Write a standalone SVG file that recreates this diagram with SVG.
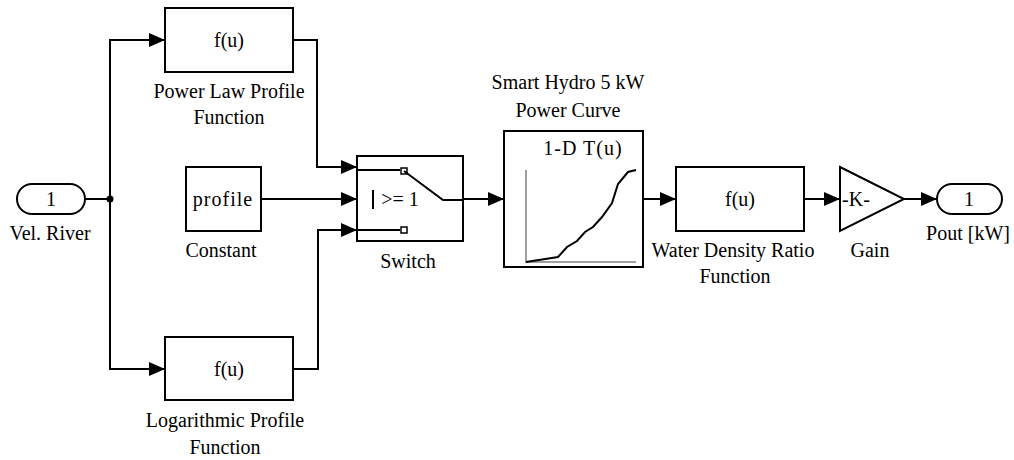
<svg xmlns="http://www.w3.org/2000/svg" width="1014" height="460" viewBox="0 0 1014 460">
<style>
.blk{fill:#fff;stroke:#000;stroke-width:2}
.ln{fill:none;stroke:#000;stroke-width:2}
.t{font-family:'Liberation Serif','DejaVu Serif','Noto Serif',serif;font-size:20px;fill:#000;text-anchor:middle}
.ax{fill:none;stroke:#a0a0a0;stroke-width:2}
</style>
<defs>
<marker id="ah" viewBox="0 0 16 14" refX="16" refY="7" markerWidth="16" markerHeight="14" markerUnits="userSpaceOnUse" orient="auto">
<path d="M0,0 L16,7 L0,14 z" fill="#000"/>
</marker>
</defs>
<g id="connectors">
<path class="ln" d="M85,199 H110"/>
<path class="ln" d="M110,199 V40 H165" marker-end="url(#ah)"/>
<path class="ln" d="M110,199 V369 H165" marker-end="url(#ah)"/>
<circle cx="110" cy="199" r="3.5" fill="#000"/>
<path class="ln" d="M293,40 H317 V167 H357" marker-end="url(#ah)"/>
<path class="ln" d="M261,199 H357" marker-end="url(#ah)"/>
<path class="ln" d="M293,369 H318 V230 H357" marker-end="url(#ah)"/>
<path class="ln" d="M463,199 H504" marker-end="url(#ah)"/>
<path class="ln" d="M643,199 H676" marker-end="url(#ah)"/>
<path class="ln" d="M804,199 H840" marker-end="url(#ah)"/>
<path class="ln" d="M904,199 H937" marker-end="url(#ah)"/>
</g>
<g id="vel_river">
<rect class="blk" x="17" y="184" width="68" height="30" rx="15"/>
<text class="t" x="51" y="206" font-family="Liberation Serif, serif">1</text>
<text class="t" x="50" y="240">Vel. River</text>
</g>
<g id="power_law">
<rect class="blk" x="165" y="8" width="128" height="64"/>
<text class="t" x="229" y="47">f(u)</text>
<text class="t" x="229" y="98">Power Law Profile</text>
<text class="t" x="229" y="124">Function</text>
</g>
<g id="constant">
<rect class="blk" x="186" y="167" width="75" height="64"/>
<text class="t" x="223" y="206" letter-spacing="1">profile</text>
<text class="t" x="221" y="257">Constant</text>
</g>
<g id="log_profile">
<rect class="blk" x="165" y="337" width="128" height="63"/>
<text class="t" x="229" y="376">f(u)</text>
<text class="t" x="225" y="427">Logarithmic Profile</text>
<text class="t" x="225" y="454">Function</text>
</g>
<g id="switch">
<rect class="blk" x="357" y="156" width="106" height="85"/>
<path class="ln" d="M357,170 H400"/>
<rect x="401" y="168" width="6" height="6" fill="#fff" stroke="#000" stroke-width="1.5"/>
<path class="ln" d="M404,171 L443,200 H463"/>
<path class="ln" d="M373,190 V209"/>
<text class="t" x="400" y="206">&gt;= 1</text>
<path class="ln" d="M357,230 H400"/>
<rect x="401" y="227" width="6" height="6" fill="#fff" stroke="#000" stroke-width="1.5"/>
<text class="t" x="408" y="268">Switch</text>
</g>
<g id="lookup">
<text class="t" x="568" y="89">Smart Hydro 5 kW</text>
<text class="t" x="568" y="117">Power Curve</text>
<rect class="blk" x="504" y="131" width="139" height="136"/>
<text class="t" x="583" y="155" letter-spacing="1">1-D T(u)</text>
<path class="ax" d="M526,170 V262 H636"/>
<path class="ln" d="M526,262 L558,257 L567,247 L577,241 L585,232 L593,227 L602,217 L612,203 L618,184 L628,172 L636,170"/>
</g>
<g id="water_density">
<rect class="blk" x="676" y="167" width="128" height="64"/>
<text class="t" x="740" y="206">f(u)</text>
<text class="t" x="733" y="257">Water Density Ratio</text>
<text class="t" x="735" y="283">Function</text>
</g>
<g id="gain">
<path class="blk" d="M840,167 L904,199 L840,231 z"/>
<text class="t" x="856" y="206">-K-</text>
<text class="t" x="870" y="257">Gain</text>
</g>
<g id="pout">
<rect class="blk" x="937" y="184" width="65" height="30" rx="15"/>
<text class="t" x="969" y="206">1</text>
<text class="t" x="968" y="240">Pout [kW]</text>
</g>
</svg>
